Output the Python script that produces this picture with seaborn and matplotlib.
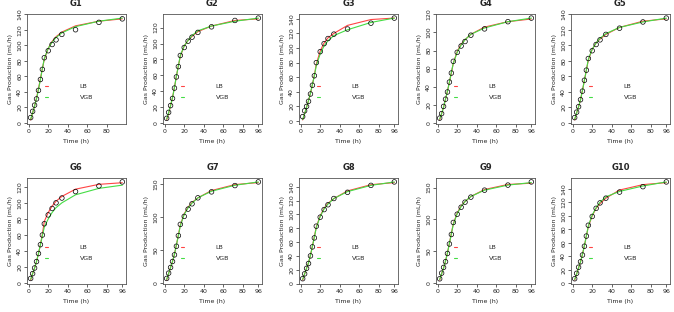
import seaborn as sns
import matplotlib.pyplot as plt
import numpy as np
import pandas as pd

# incubation times (h)
time_h = [2, 4, 6, 8, 10, 12, 14, 16, 20, 24, 28, 34, 48, 72, 96]

panels = ['G1', 'G2', 'G3', 'G4', 'G5', 'G6', 'G7', 'G8', 'G9', 'G10']

# observed gas production (mL/h)
observed = {
    'G1': [7, 15, 23, 31, 42, 56, 69, 84, 93, 101, 107, 114, 120, 129.5, 134],
    'G2': [6, 13.5, 22, 31, 44, 58, 71, 85, 95, 103, 108, 114, 121, 129, 132],
    'G3': [6, 14, 20, 27, 37, 49, 62, 80, 95, 106, 113, 119, 126, 134, 141],
    'G4': [5, 10, 18, 26, 34, 45, 55, 68, 78, 85, 90, 97, 104, 112, 116],
    'G5': [7, 14, 21, 30, 41, 55, 68, 83, 93, 101, 107, 114, 122, 130, 135],
    'G6': [6, 12, 19, 27, 37, 48, 60, 74, 85, 93, 100, 106, 114, 121, 126],
    'G7': [7.5, 15.5, 24, 33, 43, 56, 72, 89, 101, 112, 120, 129, 138, 147.5, 153],
    'G8': [7, 14, 22, 29, 40, 53, 66, 83, 96, 107, 114, 123, 132, 142, 147],
    'G9': [6, 15, 24, 33, 46, 61, 76, 95, 108, 119, 127, 135, 146, 154, 159],
    'G10': [7, 15, 24, 32, 42, 55, 70, 86, 99, 111, 119, 126, 135, 143, 150],
}

# logistic-type fit (LB)
lb_fit = {
    'G1': [4, 13, 22, 32, 44, 57, 70, 82, 96, 105, 111, 117, 125, 131, 134],
    'G2': [4, 12, 22, 32, 45, 59, 72, 84, 97, 104, 109, 115, 122, 129, 131],
    'G3': [1.5, 10, 19, 28, 38, 50, 63, 78, 96, 107, 114, 120, 131, 139, 141],
    'G4': [3, 10, 17, 26, 35, 45, 55, 66, 79, 87, 92, 98, 106, 112, 115],
    'G5': [4, 13, 21, 30, 42, 55, 68, 81, 95, 103, 108, 114, 123, 131, 134],
    'G6': [4, 12, 19, 27, 37, 48, 61, 77, 88, 96, 102, 108, 117, 123, 125],
    'G7': [5, 15, 24, 33, 44, 58, 73, 88, 105, 115, 122, 129, 140, 149, 152],
    'G8': [5, 14, 22, 30, 41, 54, 68, 82, 98, 109, 116, 123, 134, 143, 146],
    'G9': [4, 14, 23, 34, 47, 62, 78, 93, 110, 121, 128, 136, 147, 155, 157],
    'G10': [5, 14, 23, 32, 43, 56, 70, 84, 100, 111, 118, 126, 138, 146, 149],
}

# Gompertz-type fit (VGB)
vgb_fit = {
    'G1': [5, 13, 22, 31, 43, 56, 70, 83, 96, 104, 110, 116, 124, 131, 135],
    'G2': [5, 13, 22, 32, 45, 59, 72, 85, 97, 104, 110, 116, 122, 128, 132],
    'G3': [2, 10, 19, 28, 38, 50, 62, 76, 92, 103, 110, 117, 125, 135, 141],
    'G4': [4, 10, 17, 26, 35, 45, 56, 66, 78, 86, 92, 98, 105, 112, 116],
    'G5': [5, 13, 21, 30, 42, 55, 68, 82, 95, 103, 109, 115, 123, 130, 135],
    'G6': [5, 12, 19, 27, 37, 48, 59, 70, 80, 88, 94, 100, 110, 118, 122],
    'G7': [6, 15, 24, 33, 44, 58, 72, 87, 104, 114, 121, 129, 139, 148, 153],
    'G8': [6, 14, 22, 30, 41, 54, 67, 81, 97, 108, 115, 123, 133, 142, 147],
    'G9': [5, 14, 23, 34, 47, 62, 77, 92, 109, 120, 128, 136, 146, 154, 158],
    'G10': [6, 14, 23, 32, 43, 56, 70, 85, 101, 112, 120, 128, 136, 144, 150],
}

ytick_step = {'G7': 50, 'G9': 50}

rows = []
for g in panels:
    for t, o, a, b in zip(time_h, observed[g], lb_fit[g], vgb_fit[g]):
        rows.append({'panel': g, 'time': t, 'obs': o, 'LB': a, 'VGB': b})
df = pd.DataFrame(rows)

sns.set_style('ticks')
plt.rcParams['font.family'] = ['DejaVu Sans']

fig = plt.figure(figsize=(6.74, 3.12), dpi=100)

W, H = 674, 312
box_w = 99
lefts = [27, 163, 299, 436, 571]
tops = [14, 178]
box_h = [110, 106]

for i, g in enumerate(panels):
    r, c = divmod(i, 5)
    ax = fig.add_axes([lefts[c] / W, 1 - (tops[r] + box_h[r]) / H,
                       box_w / W, box_h[r] / H])
    d = df[df['panel'] == g]
    sns.lineplot(data=d, x='time', y='LB', color='#ff4444', lw=0.8, ax=ax, label='LB')
    sns.lineplot(data=d, x='time', y='VGB', color='#44dd44', lw=0.8, ax=ax, label='VGB')
    sns.scatterplot(data=d, x='time', y='obs', marker='o', s=11, facecolors='none',
                    edgecolors='black', linewidth=0.5, ax=ax, zorder=3)

    vals = np.concatenate([d['obs'], d['LB'], d['VGB']])
    lo, hi = vals.min(), vals.max()
    pad = 0.04 * (hi - lo)
    ax.set_ylim(lo - pad, hi + pad)
    ax.set_xlim(2 - 0.04 * 94, 96 + 0.04 * 94)

    step = ytick_step.get(g, 20)
    yt = np.arange(0, 200, step)
    ax.set_yticks(yt[(yt >= lo - pad) & (yt <= hi + pad)])
    if g == 'G1':
        ax.set_xticks([0, 20, 40, 60, 80])
    else:
        ax.set_xticks([0, 20, 40, 60, 80, 96])

    ax.tick_params(axis='both', labelsize=4.5, length=2, width=0.5, pad=1.5)
    for lab in ax.get_yticklabels():
        lab.set_rotation(90)
        lab.set_va('center')
    for sp in ax.spines.values():
        sp.set_linewidth(0.6)
        sp.set_color('#555555')

    ax.set_title(g, fontsize=6, fontweight='bold', pad=6)
    ax.set_xlabel('Time (h)', fontsize=4.5, labelpad=4)
    ax.set_ylabel('Gas Production (mL/h)', fontsize=4.5, labelpad=3)

    ax.legend(loc='upper left', bbox_to_anchor=(0.12, 0.42), frameon=False,
              fontsize=4.5, handlelength=0.6, handletextpad=5.0,
              labelspacing=0.9)

fig.savefig('out.png', dpi=100)
